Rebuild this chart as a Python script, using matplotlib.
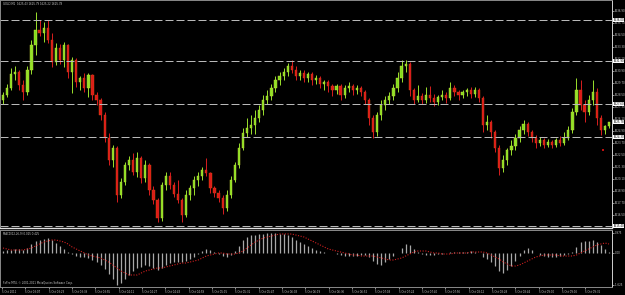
import numpy as np
import matplotlib.pyplot as plt
from matplotlib import font_manager
from matplotlib.transforms import blended_transform_factory

# GOLD M1 candles
opens = [1628.0, 1628.5, 1629.2, 1630.6, 1630.8, 1629.5, 1628.8, 1631.0, 1633.5, 1635.0,
         1634.7, 1635.2, 1634.0, 1631.8, 1633.2, 1632.0, 1633.5, 1630.8, 1632.0, 1629.8,
         1630.2, 1629.2, 1630.5, 1628.5, 1628.0, 1626.5, 1624.2, 1622.0, 1623.2, 1618.5,
         1619.8, 1621.5, 1622.0, 1620.8, 1622.2, 1620.2, 1621.5, 1619.0, 1618.0, 1616.2,
         1619.5, 1620.4, 1619.5, 1618.6, 1618.0, 1616.5, 1618.5, 1619.2, 1620.0, 1620.4,
         1621.0, 1620.7, 1619.2, 1618.7, 1618.2, 1617.2, 1618.5, 1620.0, 1621.5, 1623.2,
         1624.7, 1625.2, 1625.5, 1626.2, 1627.0, 1628.0, 1628.4, 1629.2, 1630.0, 1630.4,
         1630.8, 1631.4, 1631.0, 1630.4, 1630.7, 1630.2, 1630.6, 1630.0, 1630.2, 1629.6,
         1629.8, 1629.4, 1629.0, 1629.4, 1628.5, 1629.2, 1629.4, 1629.0, 1629.2, 1628.8,
         1628.0, 1626.2, 1624.8, 1626.5, 1627.5, 1628.0, 1628.4, 1629.2, 1630.2, 1631.4,
         1631.6, 1629.0, 1628.0, 1628.4, 1628.0, 1628.5, 1628.2, 1627.8, 1628.3, 1628.5,
         1628.2, 1629.2, 1628.8, 1628.5, 1628.8, 1629.0, 1628.6, 1629.0, 1628.2, 1625.5,
         1625.8, 1624.8, 1623.2, 1621.2, 1622.0, 1623.0, 1623.4, 1624.2, 1625.0, 1625.6,
         1624.8, 1624.2, 1623.7, 1624.0, 1623.5, 1623.8, 1623.5, 1624.0, 1623.7, 1624.2,
         1625.0, 1626.8, 1629.0, 1627.5, 1626.8, 1628.0, 1628.8, 1626.2, 1625.0, 1625.43]
highs = [1628.8, 1629.6, 1631.2, 1631.4, 1631.0, 1630.0, 1631.4, 1634.0, 1636.8, 1636.0,
         1635.8, 1636.0, 1634.7, 1633.7, 1633.6, 1633.8, 1633.6, 1632.3, 1632.2, 1630.4,
         1630.7, 1630.7, 1630.6, 1628.8, 1628.2, 1626.8, 1624.7, 1623.5, 1623.4, 1620.2,
         1621.8, 1622.4, 1622.7, 1622.8, 1622.4, 1622.0, 1621.7, 1619.4, 1618.2, 1619.8,
         1620.8, 1620.8, 1619.8, 1620.0, 1618.2, 1619.0, 1619.5, 1620.4, 1620.8, 1621.3,
         1622.2, 1620.8, 1619.4, 1619.0, 1618.5, 1619.0, 1620.4, 1621.8, 1623.7, 1625.2,
         1626.2, 1626.5, 1627.0, 1627.5, 1628.5, 1629.0, 1629.6, 1630.4, 1630.8, 1631.2,
         1631.7, 1632.0, 1631.4, 1631.0, 1631.0, 1630.8, 1630.8, 1630.5, 1630.4, 1630.0,
         1630.0, 1629.6, 1629.6, 1629.6, 1629.5, 1629.8, 1629.6, 1629.5, 1629.4, 1629.0,
         1628.2, 1626.5, 1626.8, 1628.0, 1628.4, 1628.8, 1629.6, 1630.8, 1632.0, 1632.0,
         1631.8, 1629.2, 1629.5, 1628.7, 1629.3, 1629.4, 1628.6, 1628.5, 1629.0, 1628.8,
         1629.8, 1629.5, 1629.0, 1629.0, 1629.2, 1629.3, 1629.3, 1629.2, 1628.4, 1626.5,
         1626.0, 1625.0, 1623.5, 1622.5, 1623.2, 1624.0, 1624.6, 1625.4, 1626.0, 1625.8,
         1625.0, 1624.5, 1624.3, 1624.2, 1624.1, 1624.0, 1624.2, 1624.4, 1624.8, 1625.4,
         1627.2, 1630.2, 1630.0, 1628.0, 1628.5, 1630.0, 1629.2, 1626.5, 1625.5, 1625.79]
lows = [1627.6, 1628.3, 1629.0, 1630.0, 1629.0, 1628.0, 1628.5, 1630.6, 1632.5, 1634.4,
        1633.8, 1633.7, 1631.3, 1631.5, 1631.6, 1631.3, 1630.2, 1628.7, 1629.3, 1629.0,
        1628.8, 1628.3, 1628.0, 1627.5, 1626.0, 1623.8, 1621.5, 1621.3, 1617.8, 1618.2,
        1619.5, 1621.0, 1620.5, 1620.3, 1619.7, 1619.8, 1618.5, 1617.6, 1615.8, 1615.9,
        1619.0, 1619.1, 1618.3, 1617.7, 1615.8, 1616.3, 1618.0, 1618.5, 1619.4, 1620.0,
        1620.4, 1618.7, 1618.3, 1617.8, 1616.6, 1616.9, 1618.2, 1619.8, 1621.2, 1623.0,
        1624.3, 1624.6, 1624.6, 1625.8, 1626.5, 1627.6, 1628.0, 1628.8, 1629.5, 1630.0,
        1630.4, 1630.7, 1630.0, 1630.0, 1629.8, 1629.8, 1629.5, 1629.6, 1629.2, 1629.0,
        1628.8, 1628.4, 1628.6, 1628.0, 1628.2, 1628.8, 1628.5, 1628.6, 1628.4, 1627.6,
        1625.5, 1624.2, 1624.4, 1626.0, 1627.0, 1627.6, 1628.0, 1628.8, 1629.8, 1630.8,
        1628.4, 1627.6, 1627.8, 1627.6, 1627.7, 1627.8, 1627.4, 1627.5, 1628.0, 1627.7,
        1628.0, 1628.4, 1628.0, 1628.2, 1628.4, 1628.2, 1628.3, 1627.8, 1624.8, 1625.0,
        1624.2, 1622.8, 1620.5, 1620.8, 1621.5, 1622.5, 1623.0, 1623.8, 1624.6, 1624.4,
        1623.8, 1623.2, 1623.4, 1623.2, 1623.3, 1623.2, 1623.3, 1623.4, 1623.5, 1624.0,
        1624.7, 1626.5, 1627.0, 1625.8, 1626.5, 1627.5, 1625.5, 1624.5, 1624.6, 1625.22]
closes = [1628.5, 1629.2, 1630.6, 1630.8, 1629.5, 1628.8, 1631.0, 1633.5, 1635.0, 1634.7,
          1635.2, 1634.0, 1631.8, 1633.2, 1632.0, 1633.5, 1630.8, 1632.0, 1629.8, 1630.2,
          1629.2, 1630.5, 1628.5, 1628.0, 1626.5, 1624.2, 1622.0, 1623.2, 1618.5, 1619.8,
          1621.5, 1622.0, 1620.8, 1622.2, 1620.2, 1621.5, 1619.0, 1618.0, 1616.2, 1619.5,
          1620.4, 1619.5, 1618.6, 1618.0, 1616.5, 1618.5, 1619.2, 1620.0, 1620.4, 1621.0,
          1620.7, 1619.2, 1618.7, 1618.2, 1617.2, 1618.5, 1620.0, 1621.5, 1623.2, 1624.7,
          1625.2, 1625.5, 1626.2, 1627.0, 1628.0, 1628.4, 1629.2, 1630.0, 1630.4, 1630.8,
          1631.4, 1631.0, 1630.4, 1630.7, 1630.2, 1630.6, 1630.0, 1630.2, 1629.6, 1629.8,
          1629.4, 1629.0, 1629.4, 1628.5, 1629.2, 1629.4, 1629.0, 1629.2, 1628.8, 1628.0,
          1626.2, 1624.8, 1626.5, 1627.5, 1628.0, 1628.4, 1629.2, 1630.2, 1631.4, 1631.6,
          1629.0, 1628.0, 1628.4, 1628.0, 1628.5, 1628.2, 1627.8, 1628.3, 1628.5, 1628.2,
          1629.2, 1628.8, 1628.5, 1628.8, 1629.0, 1628.6, 1629.0, 1628.2, 1625.5, 1625.8,
          1624.8, 1623.2, 1621.2, 1622.0, 1623.0, 1623.4, 1624.2, 1625.0, 1625.6, 1624.8,
          1624.2, 1623.7, 1624.0, 1623.5, 1623.8, 1623.5, 1624.0, 1623.7, 1624.2, 1625.0,
          1626.8, 1629.0, 1627.5, 1626.8, 1628.0, 1628.8, 1626.2, 1625.0, 1625.43, 1625.78]

# MACD(12,26,9): histogram (main) and signal line
macd_main = [0.075, 0.125, 0.125, 0.175, 0.175, 0.125, 0.225, 0.425, 0.575, 0.625,
             0.675, 0.725, 0.625, 0.475, 0.325, 0.175, 0.025, -0.075, -0.175, -0.225,
             -0.225, -0.275, -0.375, -0.475, -0.625, -0.825, -1.075, -1.325, -1.625, -1.525,
             -1.325, -1.125, -0.925, -0.775, -0.725, -0.625, -0.675, -0.775, -0.875, -0.775,
             -0.625, -0.525, -0.475, -0.475, -0.475, -0.425, -0.325, -0.225, -0.075, 0.075,
             0.175, 0.125, 0.025, -0.075, -0.175, -0.225, -0.125, 0.075, 0.325, 0.625,
             0.775, 0.875, 0.875, 0.925, 0.925, 0.975, 0.975, 0.975, 0.925, 0.925,
             0.875, 0.775, 0.625, 0.525, 0.425, 0.325, 0.225, 0.125, 0.075, 0.025,
             -0.025, -0.025, -0.075, -0.125, -0.175, -0.175, -0.175, -0.175, -0.125, -0.125,
             -0.225, -0.425, -0.575, -0.625, -0.475, -0.325, -0.175, -0.025, 0.225, 0.425,
             0.375, 0.175, 0.025, -0.075, -0.125, -0.125, -0.125, -0.075, -0.075, -0.025,
             0.025, 0.025, 0.025, 0.025, 0.025, 0.075, 0.025, -0.025, -0.225, -0.325,
             -0.475, -0.675, -0.925, -1.025, -0.875, -0.675, -0.425, -0.175, 0.125, 0.225,
             0.125, -0.025, -0.125, -0.175, -0.225, -0.225, -0.225, -0.175, -0.125, -0.075,
             0.025, 0.275, 0.525, 0.575, 0.575, 0.625, 0.525, 0.375, 0.175, 0.025]
macd_signal = [0.225, 0.175, 0.125, 0.125, 0.125, 0.125, 0.175, 0.225, 0.325, 0.425,
               0.525, 0.575, 0.625, 0.625, 0.575, 0.525, 0.425, 0.275, 0.175, 0.075,
               -0.025, -0.125, -0.175, -0.225, -0.275, -0.375, -0.475, -0.625, -0.775, -0.925,
               -1.025, -1.125, -1.125, -1.125, -1.025, -0.925, -0.875, -0.825, -0.775, -0.775,
               -0.725, -0.675, -0.625, -0.575, -0.525, -0.525, -0.475, -0.425, -0.375, -0.275,
               -0.175, -0.125, -0.075, -0.025, -0.025, -0.075, -0.075, -0.075, -0.025, 0.075,
               0.225, 0.375, 0.525, 0.625, 0.725, 0.775, 0.825, 0.875, 0.925, 0.925,
               0.925, 0.925, 0.875, 0.825, 0.775, 0.675, 0.575, 0.475, 0.375, 0.275,
               0.175, 0.125, 0.075, 0.025, -0.025, -0.075, -0.125, -0.125, -0.175, -0.175,
               -0.175, -0.175, -0.225, -0.275, -0.325, -0.375, -0.375, -0.325, -0.275, -0.175,
               -0.075, 0.025, 0.075, 0.075, 0.075, 0.025, -0.025, -0.025, -0.075, -0.075,
               -0.075, -0.025, -0.025, -0.025, -0.025, 0.025, 0.025, 0.025, 0.025, -0.025,
               -0.125, -0.225, -0.325, -0.475, -0.575, -0.675, -0.675, -0.625, -0.525, -0.425,
               -0.325, -0.225, -0.175, -0.125, -0.125, -0.125, -0.125, -0.175, -0.175, -0.175,
               -0.175, -0.125, -0.025, 0.075, 0.175, 0.275, 0.375, 0.425, 0.475, 0.425]

time_labels = ['5 Oct 2011', '5 Oct 03:07', '5 Oct 03:23', '5 Oct 03:39', '5 Oct 03:55',
               '5 Oct 04:11', '5 Oct 04:27', '5 Oct 04:43', '5 Oct 04:59', '5 Oct 05:15',
               '5 Oct 05:31', '5 Oct 05:47', '5 Oct 06:03', '5 Oct 06:19', '5 Oct 06:36',
               '5 Oct 06:52', '5 Oct 07:08', '5 Oct 07:24', '5 Oct 07:40', '5 Oct 07:56',
               '5 Oct 08:12', '5 Oct 08:28', '5 Oct 08:44', '5 Oct 09:00', '5 Oct 09:16',
               '5 Oct 09:32']
price_ticks = [1636.9, 1635.7, 1634.5, 1633.3, 1632.1, 1630.9, 1629.7, 1628.5, 1627.3,
               1626.1, 1624.9, 1623.7, 1622.5, 1621.3, 1620.1, 1618.9, 1617.7, 1616.5]
hlines = [1636.0, 1631.9, 1627.6, 1624.3, 1615.4]
bid = 1625.78
macd_ticks = [0.975, 0.0, -1.625]
macd_tick_labels = ['0.975', '0.00', '-1.625']
stop_marker = (147.5, 1623.0)

# narrow face for the tiny axis labels, if one is installed
names = {f.name for f in font_manager.fontManager.ttflist}
family = 'Liberation Sans Narrow' if 'Liberation Sans Narrow' in names else 'DejaVu Sans'
plt.rcParams['font.family'] = family
fs = 2.4 if family != 'DejaVu Sans' else 1.9

W, H = 625, 295
fig = plt.figure(figsize=(W / 100, H / 100), dpi=100, facecolor='black')


def px_axes(x0, y0, x1, y1):
    return fig.add_axes([x0 / W, 1 - y1 / H, (x1 - x0) / W, (y1 - y0) / H])


ax = px_axes(0, 0, 612, 228)
ax2 = px_axes(0, 230, 612, 287)

o = np.array(opens)
h = np.array(highs)
l = np.array(lows)
c = np.array(closes)
n = len(c)
x = np.arange(n)
up = c >= o

txt = '#c8c8c8'

for a in (ax, ax2):
    a.set_facecolor('black')
    a.set_xlim(-0.74, n - 0.26)
    for s in a.spines.values():
        s.set_color('#8a8a8a')
        s.set_linewidth(0.7)
    a.spines['right'].set_color('#d0d0d0')
    a.yaxis.tick_right()
    a.tick_params(axis='y', colors=txt, labelsize=fs, length=1.2, width=0.5, pad=0.6)

ax.spines['bottom'].set_color('#e0e0e0')
ax.spines['bottom'].set_linewidth(1.0)

# candles
ax.vlines(x[up], l[up], h[up], color='#9be02c', lw=0.7)
ax.vlines(x[~up], l[~up], h[~up], color='#d81e1e', lw=0.7)
body = np.maximum(np.abs(c - o), 0.06)
ax.bar(x[up], body[up], bottom=o[up], width=0.55, color='#7fdc1e', edgecolor='#d8e040', lw=0.3)
ax.bar(x[~up], body[~up], bottom=c[~up], width=0.55, color='#e01a14', edgecolor='#d05018', lw=0.3)
ax.plot([stop_marker[0]], [stop_marker[1]], 's', color='#c01010', ms=1.6, mew=0)

for lv in hlines:
    ax.axhline(lv, color='#b8b8b8', lw=0.72, dashes=(8, 3))

ax.set_ylim(1615.2, 1638.0)
ax.set_yticks(price_ticks)
ax.set_yticklabels([f'{t:.2f}' for t in price_ticks])
ax.set_xticks([])

tr = blended_transform_factory(ax.transAxes, ax.transData)
for lv in hlines + [bid]:
    ax.text(1.0025, lv, f'{lv:.2f}', transform=tr, fontsize=fs, color='black', va='center',
            ha='left', clip_on=False,
            bbox=dict(boxstyle='square,pad=0.1', fc='white', ec='none'))

ax.text(0.005, 0.992, f'GOLD,M1  {opens[-1]:.2f} {highs[-1]:.2f} {lows[-1]:.2f} {closes[-1]:.2f}',
        transform=ax.transAxes, fontsize=fs, color=txt, va='top', ha='left')

# MACD panel
m = np.array(macd_main)
ax2.vlines(x, 0, m, color='#a8a8a8', lw=0.9)
ax2.plot(x, macd_signal, color='#d02020', lw=0.8, ls=(0, (1, 1.4)))
ax2.set_ylim(-1.725, 1.125)
ax2.set_yticks(macd_ticks)
ax2.set_yticklabels(macd_tick_labels)
ax2.text(0.005, 0.97, f'MACD(12,26,9) {macd_main[-1]:.3f} {macd_signal[-1]:.3f}',
         transform=ax2.transAxes, fontsize=fs, color=txt, va='top', ha='left')
ax2.text(0.005, 0.03, 'FxPro MT4, © 2001-2011 MetaQuotes Software Corp.',
         transform=ax2.transAxes, fontsize=fs, color=txt, va='bottom', ha='left')

tick_pos = [-0.74 + (2 + 23.33 * k) / 612 * (n + 0.48) for k in range(len(time_labels))]
ax2.set_xticks(tick_pos)
ax2.set_xticklabels(time_labels, ha='left')
ax2.tick_params(axis='x', colors=txt, labelsize=fs, length=1.5, width=0.5, pad=0.8)

fig.savefig('out.png', dpi=100, facecolor='black')
